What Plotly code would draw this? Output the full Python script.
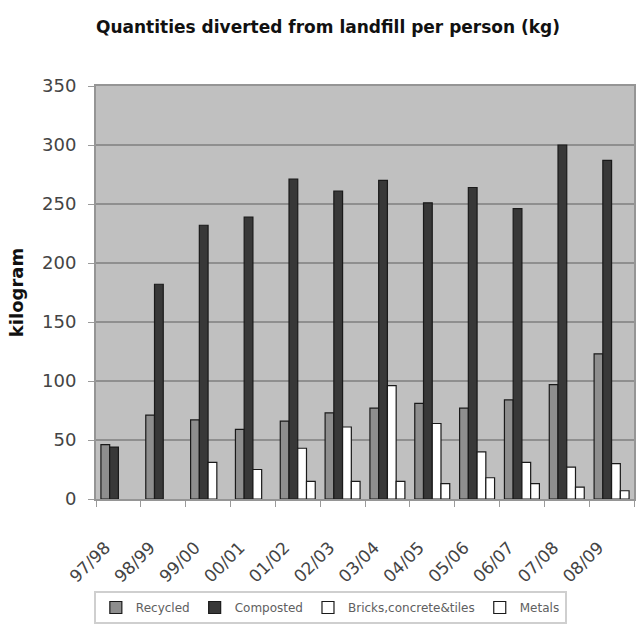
import plotly.graph_objects as go

# Financial years and kilograms per person diverted from landfill
years = ["97/98", "98/99", "99/00", "00/01", "01/02", "02/03",
         "03/04", "04/05", "05/06", "06/07", "07/08", "08/09"]
recycled = [46, 71, 67, 59, 66, 73, 77, 81, 77, 84, 97, 123]
composted = [44, 182, 232, 239, 271, 261, 270, 251, 264, 246, 300, 287]
bricks = [None, None, 31, 25, 43, 61, 96, 64, 40, 31, 27, 30]
metals = [None, None, None, None, 15, 15, 15, 13, 18, 13, 10, 7]

series = [
    ("Recycled", recycled, "#8e8e8e"),
    ("Composted", composted, "#383838"),
    ("Bricks,concrete&tiles", bricks, "#ffffff"),
    ("Metals", metals, "#ffffff"),
]

fig = go.Figure()
for name, vals, color in series:
    fig.add_trace(go.Bar(
        x=years, y=vals, name=name,
        marker=dict(color=color, line=dict(color="#1a1a1a", width=1.2)),
    ))

font_family = "DejaVu Sans"

fig.update_layout(
    width=636, height=624,
    margin=dict(l=96, r=0, t=86, b=122),
    paper_bgcolor="#ffffff",
    plot_bgcolor="#c0c0c0",
    barmode="group",
    bargap=0.22,
    bargroupgap=0,
    title=dict(
        text="<b>Quantities diverted from landfill per person (kg)</b>",
        x=328 / 636, xanchor="center", xref="container",
        y=1 - 27 / 624, yanchor="middle",
        font=dict(family=font_family, size=17, color="#111111"),
    ),
    font=dict(family=font_family, color="#444444"),
    legend=dict(
        orientation="h",
        x=-0.004, xanchor="left",
        y=-0.224, yanchor="top",
        font=dict(family=font_family, size=12, color="#606060"),
        bgcolor="#ffffff",
        bordercolor="#cfcfcf", borderwidth=2,
        itemwidth=30,
        traceorder="normal",
    ),
)

fig.update_yaxes(
    range=[0, 350], dtick=50,
    showgrid=True, gridcolor="#8f8f8f", gridwidth=2,
    ticks="outside", ticklen=6, tickcolor="#9a9a9a",
    ticklabelstandoff=8,
    tickfont=dict(family=font_family, size=18, color="#444444"),
    showline=True, linecolor="#959595", linewidth=2, mirror=True,
    zeroline=False,
    title=dict(text="<b>kilogram</b>", standoff=14,
               font=dict(family=font_family, size=18, color="#111111")),
)

fig.update_xaxes(
    tickangle=-45,
    ticks="outside", ticklen=6, tickcolor="#9a9a9a",
    tickson="boundaries",
    ticklabelstandoff=30,
    ticklabelshift=-13,
    tickfont=dict(family=font_family, size=17, color="#444444"),
    showline=True, linecolor="#959595", linewidth=2, mirror=True,
    showgrid=False,
)

fig.write_html("out.html")
